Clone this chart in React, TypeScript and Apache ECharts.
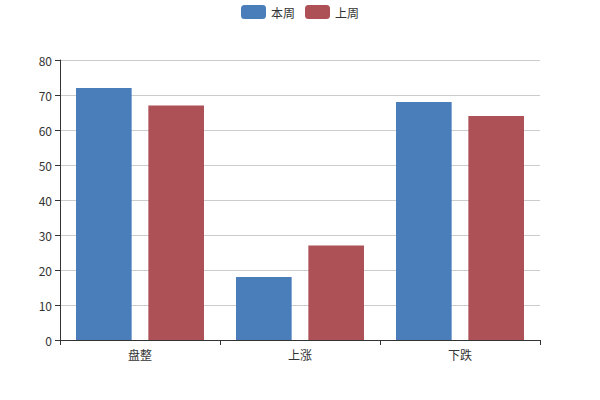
import React, { useEffect, useRef } from "react";
import * as echarts from "echarts";

const categories = ["盘整", "上涨", "下跌"];
const seriesNames = ["本周", "上周"];
const thisWeek = [72, 18, 68];
const lastWeek = [67, 27, 64];
const colors = ["#4a7ebb", "#ae5156"];

export default function App() {
  const ref = useRef<HTMLDivElement>(null);
  useEffect(() => {
    document.body.style.margin = "0";
    const chart = echarts.init(ref.current!, null, { renderer: "svg" });
    chart.setOption({
      animation: false,
      color: colors,
      textStyle: { fontFamily: "Noto Sans CJK SC, sans-serif" },
      legend: {
        top: 0,
        left: "center",
        itemWidth: 25,
        itemHeight: 14,
        itemGap: 10,
        textStyle: { color: "#333", fontSize: 12 },
        data: seriesNames,
      },
      grid: { left: 60, right: 60, top: 60, bottom: 60, containLabel: false },
      xAxis: {
        type: "category",
        data: categories,
        axisLine: { lineStyle: { color: "#333" } },
        axisTick: { show: true, lineStyle: { color: "#333" } },
        axisLabel: { color: "#333", fontSize: 12 },
      },
      yAxis: {
        type: "value",
        min: 0,
        max: 80,
        interval: 10,
        axisLine: { show: true, lineStyle: { color: "#333" } },
        axisTick: { show: true, lineStyle: { color: "#333" } },
        axisLabel: { color: "#333", fontSize: 12 },
        splitLine: { lineStyle: { color: "#ccc" } },
      },
      series: [
        {
          name: seriesNames[0],
          type: "bar",
          data: thisWeek,
          barGap: "30%",
          barCategoryGap: "20%",
        },
        {
          name: seriesNames[1],
          type: "bar",
          data: lastWeek,
          barGap: "30%",
          barCategoryGap: "20%",
        },
      ],
    });
    return () => chart.dispose();
  }, []);
  return <div ref={ref} style={{ width: 600, height: 400 }} />;
}
